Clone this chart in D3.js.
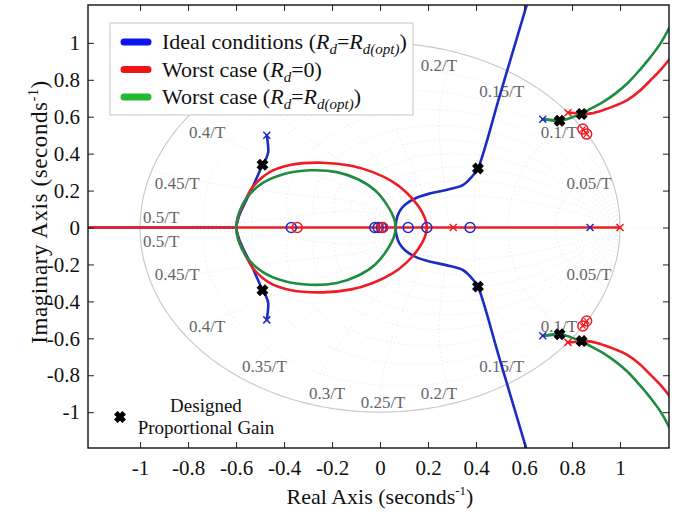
<!DOCTYPE html>
<html>
<head>
<meta charset="utf-8">
<script src="https://cdn.jsdelivr.net/npm/d3@7"></script>
<style>
  html, body { margin: 0; padding: 0; background: #fff; }
  svg { display: block; font-family: "Liberation Serif", "Times New Roman", serif; }
</style>
</head>
<body>
<svg id="chart" width="687" height="516"></svg>
<script>
// ---- axis ticks ----
const xTicks = [-1, -0.8, -0.6, -0.4, -0.2, 0, 0.2, 0.4, 0.6, 0.8, 1];
const yTicks = [-1, -0.8, -0.6, -0.4, -0.2, 0, 0.2, 0.4, 0.6, 0.8, 1];

// ---- z-plane grid: damping ratios and natural-frequency labels (k/T) ----
const dampingRatios = [0.1, 0.2, 0.3, 0.4, 0.5, 0.6, 0.7, 0.8, 0.9];
const freqLabels = [0.05, 0.1, 0.15, 0.2, 0.25, 0.3, 0.35, 0.4, 0.45, 0.5];

// ---- root locus branches (upper half-plane; lower half is the conjugate) ----
// Ideal conditions (Rd = Rd(opt))
const blueLeftUpper = [[-0.472, 0.50], [-0.468, 0.46], [-0.466, 0.41], [-0.474, 0.375], [-0.49, 0.34],
  [-0.505, 0.295], [-0.522, 0.245], [-0.545, 0.18], [-0.568, 0.12], [-0.588, 0.06], [-0.6, 0]];
const blueRightUpper = [[0.065, 0], [0.068, 0.04], [0.08, 0.085], [0.105, 0.125], [0.15, 0.16],
  [0.21, 0.185], [0.28, 0.205], [0.345, 0.23], [0.372, 0.26], [0.392, 0.29], [0.408, 0.32],
  [0.5, 0.72], [0.61, 1.2], [0.64, 1.33]];
const blueHighUpper = [[0.678, 0.586], [0.71, 0.582], [0.748, 0.578]];
const blueRealAxis = [[-1.3, 0], [-0.6, 0]];

// Worst case (Rd = 0)
const redLoopUpper = [[-0.6, 0], [-0.59, 0.065], [-0.57, 0.125], [-0.53, 0.22], [-0.46, 0.3],
  [-0.37, 0.34], [-0.24, 0.351], [-0.12, 0.335], [-0.03, 0.3], [0.05, 0.25], [0.11, 0.19],
  [0.16, 0.115], [0.187, 0.05], [0.195, 0]];
const redHighUpper = [[0.783, 0.622], [0.81, 0.62], [0.84, 0.614], [0.88, 0.618], [0.93, 0.636],
  [0.98, 0.66], [1.03, 0.69], [1.08, 0.738], [1.125, 0.795], [1.17, 0.855], [1.22, 0.935]];
const redRealAxis = [[-1.3, 0], [1.0, 0]];

// Worst case (Rd = Rd(opt))
const greenLoopUpper = [[-0.6, 0], [-0.59, 0.07], [-0.556, 0.16], [-0.49, 0.24], [-0.4, 0.29],
  [-0.29, 0.31], [-0.18, 0.3], [-0.09, 0.26], [-0.02, 0.2], [0.03, 0.12], [0.058, 0.05], [0.065, 0]];
const greenHighUpper = [[0.69, 0.585], [0.72, 0.58], [0.748, 0.577], [0.78, 0.588], [0.81, 0.602],
  [0.84, 0.617], [0.88, 0.645], [0.93, 0.68], [0.98, 0.725], [1.03, 0.78], [1.08, 0.85],
  [1.125, 0.92], [1.17, 1.0], [1.22, 1.12]];

// ---- poles (x) and zeros (o) ----
const bluePoles = [[-0.472, 0.5], [-0.472, -0.5], [0.678, 0.586], [0.678, -0.586], [0.875, 0]];
const redPoles = [[0.783, 0.622], [0.783, -0.622], [1.0, 0], [0.305, 0], [0.0, 0]];
const redInnerPoles = [[0.845, 0.533], [0.861, 0.506], [0.845, -0.533], [0.861, -0.506]];
const blueZeros = [[-0.37, 0], [-0.022, 0], [-0.008, 0], [0.006, 0], [0.117, 0], [0.195, 0], [0.375, 0]];
const redZeros = [[-0.345, 0], [0.845, 0.533], [0.861, 0.506], [0.845, -0.533], [0.861, -0.506], [0.012, 0]];

// ---- closed-loop poles at the designed proportional gain ----
const designedGain = [[-0.49, 0.34], [-0.49, -0.34], [0.408, 0.32], [0.408, -0.32],
  [0.748, 0.578], [0.748, -0.578], [0.84, 0.615], [0.84, -0.615]];

// ---- legend ----
const legendItems = [
  { key: "blue", parts: [["Ideal conditions (", "n"], ["R", "i"], ["d", "s"], ["=", "n"], ["R", "i"], ["d(opt)", "s"], [")", "n"]] },
  { key: "red", parts: [["Worst case (", "n"], ["R", "i"], ["d", "s"], ["=0)", "n"]] },
  { key: "green", parts: [["Worst case (", "n"], ["R", "i"], ["d", "s"], ["=", "n"], ["R", "i"], ["d(opt)", "s"], [")", "n"]] }
];

const colors = { blue: "#1c2cc4", red: "#ee1c24", green: "#1e8c41" };
const swatchColors = { blue: "#0b14ee", red: "#f01515", green: "#22b834" };

// ---------------------------------------------------------------
const svg = d3.select("#chart");
const L = 88, R = 669, T = 5, B = 448;
const x = d3.scaleLinear().domain([-1.217, 1.204]).range([L, R]);
const y = d3.scaleLinear().domain([-1.194, 1.205]).range([B, T]);

// legend box (pixels), used for layout of the grid labels too
const legendBox = { x: 110, y: 23, w: 303, h: 92 };

svg.append("defs").append("clipPath").attr("id", "plotClip")
  .append("rect").attr("x", L).attr("y", T).attr("width", R - L).attr("height", B - T);

const plot = svg.append("g").attr("clip-path", "url(#plotClip)");
const conj = pts => pts.map(([a, b]) => [a, -b]);
const line = d3.line().x(d => x(d[0])).y(d => y(d[1])).curve(d3.curveCatmullRom.alpha(0.5));
const lineLin = d3.line().x(d => x(d[0])).y(d => y(d[1]));

// z-plane grid
function zPoint(wn, zeta) {
  const r = Math.exp(-zeta * wn);
  const th = wn * Math.sqrt(1 - zeta * zeta);
  return [r * Math.cos(th), r * Math.sin(th)];
}
const gridG = plot.append("g").attr("fill", "none").attr("stroke", "#e2e2e2")
  .attr("stroke-width", 0.9).attr("stroke-dasharray", "1,3");
gridG.append("path").attr("d", lineLin([[-1.3, 0], [1.3, 0]]));
dampingRatios.forEach(z => {
  const pts = d3.range(0, 101).map(i => zPoint(Math.PI * i / 100, z));
  gridG.append("path").attr("d", lineLin(pts));
  gridG.append("path").attr("d", lineLin(conj(pts)));
});
freqLabels.forEach(k => {
  const wn = 2 * Math.PI * k;
  const pts = d3.range(0, 61).map(i => zPoint(wn, Math.min(i / 60, 0.9999)));
  gridG.append("path").attr("d", lineLin(pts));
  gridG.append("path").attr("d", lineLin(conj(pts)));
});
// unit circle
const circPts = d3.range(0, 361).map(i => [Math.cos(i * Math.PI / 180), Math.sin(i * Math.PI / 180)]);
plot.append("path").attr("d", lineLin(circPts)).attr("fill", "none")
  .attr("stroke", "#c8c8c8").attr("stroke-width", 1.1);

// frequency labels (those lying under the legend box are not drawn)
const labG = plot.append("g").attr("font-size", 17).attr("fill", "#666");
freqLabels.forEach(k => {
  const th = 2 * Math.PI * k;
  [1, -1].forEach(s => {
    const c = Math.cos(th), sn = s * Math.sin(th);
    const px = x(c), py = y(sn);
    const anchor = c > 0.01 ? "end" : (c < -0.01 ? "start" : "middle");
    const hangBelow = (s > 0) !== (k === 0.5);
    const ty = hangBelow ? py + 19 : py - 4.5;
    const tx = px + 3;
    if (tx > legendBox.x && tx < legendBox.x + legendBox.w && ty - 12 < legendBox.y + legendBox.h && ty > legendBox.y) return;
    labG.append("text")
      .attr("x", tx)
      .attr("y", ty)
      .attr("text-anchor", anchor)
      .text(k + "/T");
  });
});

// root locus branches
function branch(pts, color, curve = line) {
  plot.append("path").attr("d", curve(pts)).attr("fill", "none")
    .attr("stroke", color).attr("stroke-width", 2.6)
    .attr("stroke-linejoin", "round").attr("stroke-linecap", "round");
}
// blue
branch(blueRealAxis, colors.blue, lineLin);
branch(blueLeftUpper, colors.blue);
branch(conj(blueLeftUpper), colors.blue);
branch(blueRightUpper, colors.blue);
branch(conj(blueRightUpper), colors.blue);
branch(blueHighUpper, colors.blue);
branch(conj(blueHighUpper), colors.blue);
// red
branch(redRealAxis, colors.red, lineLin);
branch(redLoopUpper.concat(conj(redLoopUpper).reverse().slice(1)), colors.red);
branch(redHighUpper, colors.red);
branch(conj(redHighUpper), colors.red);
// green
branch(greenLoopUpper.concat(conj(greenLoopUpper).reverse().slice(1)), colors.green);
branch(greenHighUpper, colors.green);
branch(conj(greenHighUpper), colors.green);

// pole / zero markers
function crosses(pts, color, h = 3.5, w = 1.5) {
  plot.append("g").selectAll("path").data(pts).join("path")
    .attr("d", d => `M${x(d[0]) - h},${y(d[1]) - h}L${x(d[0]) + h},${y(d[1]) + h}M${x(d[0]) - h},${y(d[1]) + h}L${x(d[0]) + h},${y(d[1]) - h}`)
    .attr("stroke", color).attr("stroke-width", w).attr("fill", "none");
}
function rings(pts, color) {
  plot.append("g").selectAll("circle").data(pts).join("circle")
    .attr("cx", d => x(d[0])).attr("cy", d => y(d[1])).attr("r", 5)
    .attr("fill", "none").attr("stroke", color).attr("stroke-width", 1.5);
}
rings(blueZeros, colors.blue);
rings(redZeros, colors.red);
crosses(bluePoles, colors.blue);
crosses(redPoles, colors.red);
crosses(redInnerPoles, colors.red, 2.6, 1.3);

// designed proportional gain markers
function bigX(sel, cx, cy) {
  const h = 4.2;
  sel.append("path")
    .attr("d", `M${cx - h},${cy - h}L${cx + h},${cy + h}M${cx - h},${cy + h}L${cx + h},${cy - h}`)
    .attr("stroke", "#000").attr("stroke-width", 5).attr("fill", "none");
}
const gainG = plot.append("g");
designedGain.forEach(d => bigX(gainG, x(d[0]), y(d[1])));

// axes: inward ticks on all four sides
const fmt = d => String(d);
const axB = svg.append("g").attr("transform", `translate(0,${B})`)
  .call(d3.axisBottom(x).tickValues(xTicks).tickFormat(fmt).tickSizeInner(-6).tickSizeOuter(0).tickPadding(12));
const axT = svg.append("g").attr("transform", `translate(0,${T})`)
  .call(d3.axisTop(x).tickValues(xTicks).tickFormat("").tickSizeInner(-6).tickSizeOuter(0));
const axL = svg.append("g").attr("transform", `translate(${L},0)`)
  .call(d3.axisLeft(y).tickValues(yTicks).tickFormat(fmt).tickSizeInner(-6).tickSizeOuter(0).tickPadding(8));
const axR = svg.append("g").attr("transform", `translate(${R},0)`)
  .call(d3.axisRight(y).tickValues(yTicks).tickFormat("").tickSizeInner(-6).tickSizeOuter(0));
[axB, axT, axL, axR].forEach(a => {
  a.select(".domain").remove();
  a.selectAll(".tick line").attr("stroke", "#222").attr("stroke-width", 1);
  a.selectAll("text").attr("font-family", "\"Liberation Serif\", \"Times New Roman\", serif")
    .attr("font-size", 21).attr("fill", "#111");
});

svg.append("rect").attr("x", L).attr("y", T).attr("width", R - L).attr("height", B - T)
  .attr("fill", "none").attr("stroke", "#111").attr("stroke-width", 1.4);

// legend
const lg = svg.append("g");
lg.append("rect").attr("x", legendBox.x).attr("y", legendBox.y).attr("width", legendBox.w).attr("height", legendBox.h)
  .attr("fill", "#fff").attr("stroke", "#c4c4c4").attr("stroke-width", 1);
legendItems.forEach((item, i) => {
  const cy = 42 + i * 27.5;
  lg.append("line").attr("x1", 124).attr("x2", 148).attr("y1", cy).attr("y2", cy)
    .attr("stroke", swatchColors[item.key]).attr("stroke-width", 7).attr("stroke-linecap", "round");
  const t = lg.append("text").attr("x", 162).attr("y", cy + 7).attr("font-size", 22).attr("fill", "#111");
  let shifted = false;
  item.parts.forEach(([txt, st]) => {
    const ts = t.append("tspan").text(txt);
    if (st === "i" || st === "s") ts.attr("font-style", "italic");
    if (st === "s") { ts.attr("font-size", 15).attr("dy", 5); shifted = true; }
    else if (shifted) { ts.attr("dy", -5); shifted = false; }
  });
});

// designed gain annotation
bigX(svg, 120, 417);
svg.append("text").attr("x", 206).attr("y", 412).attr("text-anchor", "middle")
  .attr("font-size", 19).attr("fill", "#111").text("Designed");
svg.append("text").attr("x", 206).attr("y", 434).attr("text-anchor", "middle")
  .attr("font-size", 19).attr("fill", "#111").text("Proportional Gain");

// axis titles
const xt = svg.append("text").attr("x", 380).attr("y", 504).attr("text-anchor", "middle")
  .attr("font-size", 22).attr("fill", "#111");
xt.append("tspan").text("Real Axis (seconds");
xt.append("tspan").attr("font-size", 13).attr("dy", -9).text("-1");
xt.append("tspan").attr("dy", 9).text(")");

const yt = svg.append("text").attr("transform", "translate(47,212) rotate(-90)")
  .attr("text-anchor", "middle").attr("font-size", 23).attr("fill", "#111")
  .attr("letter-spacing", 0.6);
yt.append("tspan").text("Imaginary Axis (seconds");
yt.append("tspan").attr("font-size", 14).attr("dy", -9).text("-1");
yt.append("tspan").attr("dy", 9).text(")");
</script>
</body>
</html>
